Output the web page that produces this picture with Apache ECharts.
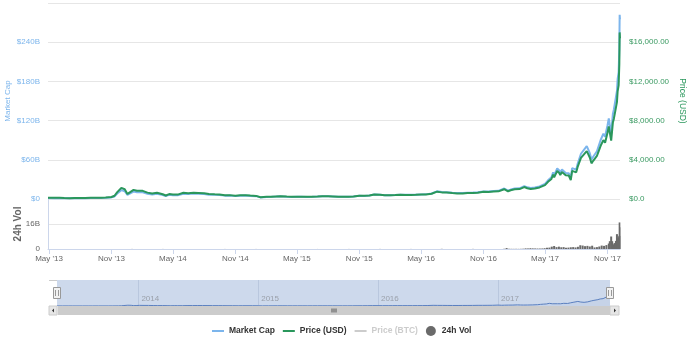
<!DOCTYPE html>
<html>
<head>
<meta charset="utf-8">
<script src="https://cdn.jsdelivr.net/npm/echarts@6/dist/echarts.min.js"></script>
<style>
html,body{margin:0;padding:0;background:#fff;}
#chart{width:696px;height:340px;}
</style>
</head>
<body>
<div id="chart"></div>
<script>
// ---- data ----
const dates = ['2013-04-28','2013-05-15','2013-06-01','2013-06-15','2013-07-01','2013-07-15','2013-08-01','2013-08-15','2013-09-01','2013-09-15','2013-10-01','2013-10-15','2013-11-01','2013-11-10','2013-11-18','2013-11-22','2013-11-30','2013-12-04','2013-12-10','2013-12-18','2013-12-25','2014-01-05','2014-01-15','2014-02-01','2014-02-15','2014-03-01','2014-03-15','2014-04-01','2014-04-10','2014-04-20','2014-05-01','2014-05-15','2014-06-01','2014-06-15','2014-07-01','2014-07-15','2014-08-01','2014-08-15','2014-09-01','2014-09-15','2014-10-01','2014-10-15','2014-11-01','2014-11-15','2014-12-01','2014-12-15','2015-01-01','2015-01-14','2015-02-01','2015-02-15','2015-03-01','2015-03-15','2015-04-01','2015-04-15','2015-05-01','2015-05-15','2015-06-01','2015-06-15','2015-07-01','2015-07-15','2015-08-01','2015-08-15','2015-09-01','2015-09-15','2015-10-01','2015-10-15','2015-11-01','2015-11-04','2015-11-15','2015-12-01','2015-12-15','2016-01-01','2016-01-15','2016-02-01','2016-02-15','2016-03-01','2016-03-15','2016-04-01','2016-04-15','2016-05-01','2016-05-15','2016-06-01','2016-06-17','2016-07-01','2016-07-15','2016-08-01','2016-08-15','2016-09-01','2016-09-15','2016-10-01','2016-10-15','2016-11-01','2016-11-15','2016-12-01','2016-12-15','2017-01-01','2017-01-05','2017-01-12','2017-01-20','2017-02-01','2017-02-15','2017-03-01','2017-03-10','2017-03-20','2017-03-25','2017-04-01','2017-04-15','2017-05-01','2017-05-10','2017-05-20','2017-05-25','2017-05-28','2017-06-06','2017-06-12','2017-06-15','2017-06-20','2017-07-01','2017-07-10','2017-07-16','2017-07-20','2017-08-01','2017-08-05','2017-08-10','2017-08-15','2017-08-20','2017-09-01','2017-09-05','2017-09-10','2017-09-15','2017-09-20','2017-10-01','2017-10-12','2017-10-20','2017-10-25','2017-11-01','2017-11-05','2017-11-08','2017-11-12','2017-11-17','2017-11-20','2017-11-26','2017-11-29','2017-11-30','2017-12-01','2017-12-04','2017-12-06','2017-12-07','2017-12-08'];

const priceUSD = [135,115,129,100,88,98,105,110,140,130,127,150,205,330,700,800,1130,1150,990,520,680,930,840,830,650,560,630,480,360,500,450,450,630,590,640,620,590,500,480,470,385,395,325,375,380,345,315,178,225,235,260,285,245,220,235,237,223,236,258,285,281,261,228,230,238,255,325,410,320,362,455,434,375,373,400,435,415,417,430,450,457,537,750,675,665,607,570,572,608,615,640,730,712,755,780,1000,1130,790,895,990,1010,1220,1100,1030,940,1080,1180,1420,1750,2040,2500,2200,2860,2660,2440,2760,2430,2400,1930,2870,2720,3250,3420,4190,4080,4890,4600,4230,3640,3900,4400,5430,6010,5730,6740,7400,7460,5950,7800,8200,9330,9890,9820,10980,11600,13750,17000,16400];

// market cap in billions of USD
const marketCapB = [1.50,1.29,1.46,1.13,1.00,1.12,1.21,1.28,1.62,1.52,1.50,1.77,2.44,3.93,8.37,9.60,13.56,13.80,11.93,6.29,8.23,11.30,10.25,10.21,8.03,6.94,7.88,6.02,4.54,6.33,5.72,5.76,8.10,7.64,8.32,8.12,7.76,6.60,6.38,6.27,5.16,5.33,4.40,5.10,5.21,4.74,4.35,2.47,3.13,3.28,3.64,4.02,3.47,3.12,3.35,3.39,3.20,3.40,3.73,4.13,4.09,3.81,3.34,3.38,3.51,3.77,4.83,6.09,4.77,5.41,6.83,6.53,5.66,5.65,6.08,6.63,6.35,6.40,6.62,6.95,7.08,8.35,11.70,10.56,10.44,9.56,9.01,9.07,9.67,9.79,10.21,11.67,11.39,12.10,12.53,16.08,18.18,12.72,14.43,15.99,16.34,19.76,17.84,16.73,15.28,17.57,19.23,23.17,28.60,33.35,40.90,36.01,46.88,43.62,40.04,45.32,39.95,39.48,31.77,47.27,44.88,53.66,56.50,69.26,67.48,80.98,76.22,70.13,60.39,64.74,73.08,90.30,100.01,95.40,112.29,123.36,124.43,99.25,130.18,136.94,155.90,165.36,164.19,183.59,194.07,230.04,282.00,274.54];

// 24h volume in billions of USD
const volDates = ['2014-01-01','2014-04-01','2014-07-01','2014-10-01','2015-01-01','2015-04-01','2015-07-01','2015-10-01','2016-01-01','2016-04-01','2016-07-01','2016-10-01','2017-01-01','2017-01-08','2017-01-15','2017-01-22','2017-01-29','2017-02-05','2017-02-12','2017-02-19','2017-02-26','2017-03-05','2017-03-12','2017-03-19','2017-03-26','2017-04-02','2017-04-09','2017-04-16','2017-04-23','2017-04-30','2017-05-07','2017-05-14','2017-05-21','2017-05-28','2017-06-04','2017-06-11','2017-06-18','2017-06-25','2017-07-02','2017-07-09','2017-07-16','2017-07-23','2017-07-30','2017-08-06','2017-08-13','2017-08-20','2017-08-27','2017-09-03','2017-09-10','2017-09-17','2017-09-24','2017-10-01','2017-10-08','2017-10-15','2017-10-22','2017-10-29','2017-11-05','2017-11-08','2017-11-12','2017-11-15','2017-11-19','2017-11-22','2017-11-26','2017-11-29','2017-12-01','2017-12-04','2017-12-06','2017-12-07','2017-12-08'];
const volB = [0.05,0.04,0.02,0.03,0.03,0.02,0.03,0.04,0.05,0.04,0.1,0.07,0.15,0.6,0.15,0.12,0.1,0.12,0.1,0.13,0.2,0.4,0.35,0.5,0.4,0.35,0.3,0.3,0.35,0.5,0.8,0.9,1.5,1.9,1.2,1.5,1.1,1.2,0.8,0.9,1.1,1.2,1.0,1.4,2.4,2.2,1.8,2.0,1.6,2.1,1.0,1.2,1.6,2.2,2.0,2.5,3.5,5.0,8.0,5.0,3.0,3.8,5.2,9.5,6.7,7.5,8.4,17.0,14.0];

const tickDates = ['2013-05-01','2013-11-01','2014-05-01','2014-11-01','2015-05-01','2015-11-01','2016-05-01','2016-11-01','2017-05-01','2017-11-01'];
const tickLabels = ["May '13","Nov '13","May '14","Nov '14","May '15","Nov '15","May '16","Nov '16","May '17","Nov '17"];
const yearDates = ['2014-01-01','2015-01-01','2016-01-01','2017-01-01'];
const yearLabels = ['2014','2015','2016','2017'];

const X_MIN = '2013-04-28', X_MAX = '2017-12-08';

// ---- build ----
const t = s => Date.parse(s);
const tickTs = tickDates.map(t);
const yearTs = yearDates.map(t);
const mcapData = dates.map((d,i)=>[t(d), marketCapB[i]]);
const priceData = dates.map((d,i)=>[t(d), priceUSD[i]]);
const volData = volDates.map((d,i)=>[t(d), volB[i]]);

const FONT = '"Liberation Sans", Arial, sans-serif';
const BLUE = '#7cb5ec', GREEN = '#2a975c', GRID = '#e6e6e6';
const NONE = 'rgba(0,0,0,0)';

// layout constants (pixels)
const L = 48, R = 76;
const NAV_L = 57, NAV_R = 86, NAV_T = 280, NAV_H = 26;
const SB_Y = NAV_T + NAV_H, SB_H = 9, SB_X0 = 49, SB_X1 = 619;
const navX1 = 696 - NAV_R;

function fmtPrice(v){
  if (v === 0) return '$0.0';
  return '$' + v.toLocaleString('en-US',{minimumFractionDigits:2, maximumFractionDigits:2});
}

const chart = echarts.init(document.getElementById('chart'), null, {renderer:'canvas'});
const linePath = 'path://M0,0 M0,4 L12,4 L12,6 L0,6 Z M12,10';

chart.setOption({
  animation: false,
  textStyle: {fontFamily: FONT},
  grid: [
    {left: L, right: R, top: 3, height: 196, outerBoundsMode: 'none', containLabel: false, show:false, borderColor: NONE},
    {left: L, right: R, top: 199, height: 50, outerBoundsMode: 'none', containLabel: false, show:false, borderColor: NONE},
    {left: NAV_L, right: NAV_R, top: NAV_T, height: NAV_H, show: true, backgroundColor: '#cdd9ec', borderWidth: 0, borderColor: NONE, outerBoundsMode: 'none', containLabel: false}
  ],
  xAxis: [
    {type:'value', gridIndex:0, min:t(X_MIN), max:t(X_MAX), show:false,
      axisLine:{show:false, lineStyle:{color:NONE}}, axisTick:{show:false}, axisLabel:{show:false},
      splitLine:{show:false, lineStyle:{color:NONE}}},
    {type:'value', gridIndex:1, min:t(X_MIN), max:t(X_MAX),
      axisLine:{show:true, onZero:false, lineStyle:{color:'#ccd6eb'}},
      axisTick:{show:true, length:5, lineStyle:{color:'#ccd6eb'}, customValues: tickTs},
      axisLabel:{customValues: tickTs, color:'#666', fontSize:8, fontFamily:FONT, margin:6,
        formatter: v => { const i = tickTs.indexOf(v); return i >= 0 ? tickLabels[i] : ''; }},
      splitLine:{show:false, lineStyle:{color:NONE}}},
    {type:'value', gridIndex:2, min:t(X_MIN), max:t(X_MAX),
      axisLine:{show:false},
      axisTick:{show:false, customValues: yearTs},
      axisLabel:{inside:true, customValues: yearTs, color:'#9aa0aa', fontSize:8, fontFamily:FONT, margin:3, align:'left', padding:[0,0,0,3],
        formatter: v => { const i = yearTs.indexOf(v); return i >= 0 ? yearLabels[i] : ''; }},
      splitLine:{show:true, lineStyle:{color:'#b9c7de', width:1}}}
  ],
  yAxis: [
    {type:'value', gridIndex:0, position:'left', min:0, max:300, interval:60,
      name:'Market Cap', nameLocation:'middle', nameGap:36, nameMoveOverlap:false,
      nameTextStyle:{color:BLUE, fontSize:8, fontFamily:FONT},
      axisLine:{show:false, onZero:false, lineStyle:{color:NONE}}, axisTick:{show:false},
      axisLabel:{color:BLUE, fontSize:8, fontFamily:FONT, margin:8, showMaxLabel:false, padding:[0,0,5,0],
        formatter: v => v === 0 ? '$0' : '$' + v + 'B'},
      splitLine:{show:true, lineStyle:{color:GRID}}},
    {type:'value', gridIndex:0, position:'right', min:0, max:20000, interval:4000,
      name:'Price (USD)', nameLocation:'middle', nameGap:58, nameRotate:-90, nameMoveOverlap:false,
      nameTextStyle:{color:GREEN, fontSize:8.5, fontFamily:FONT},
      axisLine:{show:false, onZero:false, lineStyle:{color:NONE}}, axisTick:{show:false},
      axisLabel:{color:'#3a9a62', fontSize:8, fontFamily:FONT, margin:9, showMaxLabel:false, padding:[0,0,5,0],
        formatter: fmtPrice},
      splitLine:{show:false}},
    {type:'value', gridIndex:1, position:'left', min:0, max:32, interval:16,
      name:'24h Vol', nameLocation:'middle', nameGap:25, nameMoveOverlap:false,
      nameTextStyle:{color:'#666', fontSize:10, fontWeight:'bold', fontFamily:FONT},
      axisLine:{show:true, onZero:false, lineStyle:{color:'#ccd6eb', width:1}}, axisTick:{show:false},
      axisLabel:{color:'#666', fontSize:8, fontFamily:FONT, margin:8, showMaxLabel:false, padding:[0,0,6,0],
        formatter: v => v === 0 ? '0' : v + 'B'},
      splitLine:{show:true, lineStyle:{color:GRID}}},
    {type:'value', gridIndex:2, min:0, max:460, show:false, splitLine:{show:false}}
  ],
  legend: {
    left: 207, top: 321, itemWidth: 12, itemHeight: 10, itemGap: 8,
    textStyle: {fontSize: 8.5, fontWeight: 'bold', color: '#333', fontFamily: FONT},
    inactiveColor: '#cccccc',
    selected: {'Price (BTC)': false},
    data: [
      {name:'Market Cap', icon: linePath},
      {name:'Price (USD)', icon: linePath},
      {name:'Price (BTC)', icon: linePath},
      {name:'24h Vol', icon: 'circle'}
    ]
  },
  series: [
    {name:'Market Cap', type:'line', xAxisIndex:0, yAxisIndex:0, data: mcapData,
      showSymbol:false, lineStyle:{color:BLUE, width:2}, itemStyle:{color:BLUE}, z:2},
    {name:'Price (USD)', type:'line', xAxisIndex:0, yAxisIndex:1, data: priceData,
      showSymbol:false, lineStyle:{color:GREEN, width:2}, itemStyle:{color:GREEN}, z:3},
    {name:'Price (BTC)', type:'line', xAxisIndex:0, yAxisIndex:1, data: [],
      showSymbol:false, lineStyle:{color:'#434348', width:2}, itemStyle:{color:'#434348'}},
    {name:'24h Vol', type:'bar', xAxisIndex:1, yAxisIndex:2, data: volData,
      barWidth: 2, itemStyle:{color:'#6a6a6a'}},
    {name:'navigator', type:'line', xAxisIndex:2, yAxisIndex:3, data: mcapData,
      showSymbol:false, lineStyle:{color:'#5a7fbf', width:1}, areaStyle:{color:'rgba(51,92,173,0.06)'}, silent:true}
  ],
  graphic: [
    {type:'rect', shape:{x:SB_X0, y:SB_Y, width:SB_X1-SB_X0, height:SB_H}, style:{fill:'#f2f2f2'}, z:10, silent:true},
    {type:'rect', shape:{x:NAV_L+1, y:SB_Y, width:navX1-NAV_L-1, height:SB_H}, style:{fill:'#cccccc'}, z:11, silent:true},
    {type:'rect', shape:{x:SB_X0, y:SB_Y, width:NAV_L-SB_X0, height:SB_H}, style:{fill:'#e6e6e6', stroke:'#cccccc', lineWidth:1}, z:12, silent:true},
    {type:'rect', shape:{x:navX1, y:SB_Y, width:SB_X1-navX1, height:SB_H}, style:{fill:'#e6e6e6', stroke:'#cccccc', lineWidth:1}, z:12, silent:true},
    {type:'polygon', shape:{points:[[SB_X0+5,SB_Y+2.5],[SB_X0+5,SB_Y+6.5],[SB_X0+3,SB_Y+4.5]]}, style:{fill:'#333'}, z:13, silent:true},
    {type:'polygon', shape:{points:[[navX1+4,SB_Y+2.5],[navX1+4,SB_Y+6.5],[navX1+6,SB_Y+4.5]]}, style:{fill:'#333'}, z:13, silent:true},
    {type:'line', shape:{x1:332, y1:SB_Y+2.5, x2:332, y2:SB_Y+6.5}, style:{stroke:'#555', lineWidth:1}, z:13, silent:true},
    {type:'line', shape:{x1:334, y1:SB_Y+2.5, x2:334, y2:SB_Y+6.5}, style:{stroke:'#555', lineWidth:1}, z:13, silent:true},
    {type:'line', shape:{x1:336, y1:SB_Y+2.5, x2:336, y2:SB_Y+6.5}, style:{stroke:'#555', lineWidth:1}, z:13, silent:true},
    {type:'rect', shape:{x:NAV_L-3.5, y:287.5, width:7, height:11}, style:{fill:'#f2f2f2', stroke:'#999', lineWidth:1}, z:14, silent:true},
    {type:'line', shape:{x1:NAV_L-1.5, y1:290, x2:NAV_L-1.5, y2:296}, style:{stroke:'#999', lineWidth:1}, z:15, silent:true},
    {type:'line', shape:{x1:NAV_L+1.5, y1:290, x2:NAV_L+1.5, y2:296}, style:{stroke:'#999', lineWidth:1}, z:15, silent:true},
    {type:'rect', shape:{x:navX1-3.5, y:287.5, width:7, height:11}, style:{fill:'#f2f2f2', stroke:'#999', lineWidth:1}, z:14, silent:true},
    {type:'line', shape:{x1:navX1-1.5, y1:290, x2:navX1-1.5, y2:296}, style:{stroke:'#999', lineWidth:1}, z:15, silent:true},
    {type:'line', shape:{x1:navX1+1.5, y1:290, x2:navX1+1.5, y2:296}, style:{stroke:'#999', lineWidth:1}, z:15, silent:true},
    {type:'line', shape:{x1:SB_X0, y1:280.5, x2:NAV_L, y2:280.5}, style:{stroke:'#cccccc', lineWidth:1}, z:9, silent:true}
  ]
});
</script>
</body>
</html>
